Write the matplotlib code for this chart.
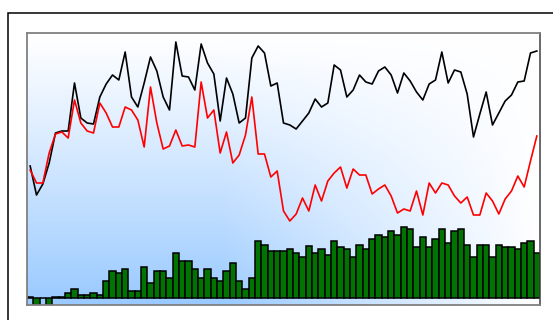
import matplotlib
matplotlib.use("Agg")
import matplotlib.pyplot as plt
import numpy as np
from matplotlib.patches import Rectangle

# values (baseline = 0)
black_line = [132, 103, 114, 135, 165, 167, 167, 215, 180, 175, 174, 201, 214, 223, 218, 246,
              201, 191, 215, 241, 227, 201, 188, 256, 222, 221, 208, 254, 235, 224, 177, 220,
              204, 175, 180, 240, 252, 245, 212, 215, 175, 173, 169, 177, 185, 199, 191, 195,
              233, 228, 201, 208, 223, 216, 214, 227, 231, 223, 205, 225, 217, 206, 198, 214,
              218, 246, 215, 228, 226, 204, 161, 184, 206, 173, 185, 197, 203, 216, 217, 245, 247]
red_line = [128, 115, 115, 145, 164, 166, 160, 198, 175, 167, 165, 195, 185, 171, 171, 191,
            188, 178, 151, 211, 175, 149, 152, 168, 152, 153, 151, 216, 180, 188, 145, 166,
            135, 143, 163, 201, 144, 144, 121, 127, 87, 77, 84, 100, 87, 113, 97, 117,
            125, 131, 110, 129, 123, 123, 104, 109, 113, 102, 85, 89, 87, 107, 83, 115,
            105, 115, 113, 102, 95, 101, 83, 83, 105, 97, 84, 99, 107, 122, 111, 137, 162]
bars = [1.3, -7, 0, -7, 0.7, 0.7, 5.3, 9.3, 3, 3, 5.3, 3, 17, 27.5, 25, 29.3,
        7, 7, 31.3, 15.3, 27.5, 27.5, 19.7, 45.3, 37.5, 37.5, 29.3, 19.7, 29.3, 19.7, 17.3, 27.5,
        35.3, 17.3, 9.3, 19.7, 57.5, 53, 47.3, 47.3, 47.3, 49.3, 45.3, 41.3, 52, 44.7, 49.3, 43.3,
        57.3, 51.3, 49.3, 41.3, 53.3, 49.3, 59.3, 63.3, 61.3, 66.7, 63.3, 71.3, 69.3, 51.3, 61.3, 51.3,
        59.3, 69.3, 55.3, 67.3, 69.3, 53.3, 41.3, 53.3, 53.3, 41.3, 53.3, 51.3, 51.3, 49.3, 55.3, 57.3, 45.3]

x = np.arange(len(bars))

fig = plt.figure(figsize=(5.53, 3.2), dpi=100)

# outer frame (runs off the right and bottom edges)
fig.patches.append(Rectangle((8 / 553, -0.05), 1.1, (307 / 320) + 0.05, transform=fig.transFigure,
                             fill=False, edgecolor="black", linewidth=1.1))

ax = fig.add_axes([27 / 553, 15 / 320, 513 / 553, 272 / 320])

# gradient background: blue bottom-left fading to white top-right
gx = np.linspace(0, 1, 300)
gy = np.linspace(0, 1, 200)
GX, GY = np.meshgrid(gx, gy)
h = np.clip((1 - GX) / 0.62, 0, 1)
v = np.clip(GY, 0, 1) ** 1.1
w = h * v
blue = np.array([0.6, 0.79, 1.0])
img = 1 - w[..., None] * (1 - blue)
ax.imshow(img, extent=(0, 1, 0, 1), transform=ax.transAxes, aspect="auto", zorder=0, origin="upper")

ax.plot(x, black_line, color="black", linewidth=1.2, zorder=3)
ax.plot(x, red_line, color="#ff0000", linewidth=1.2, zorder=3)
ax.bar(x, bars, width=1.0, color="#007400", edgecolor="black", linewidth=1.1, zorder=2)

ax.set_xlim(-0.5, len(bars) - 0.5)
ax.set_ylim(-7, 265)
ax.set_xticks([])
ax.set_yticks([])
for side in ("top", "left", "bottom"):
    ax.spines[side].set_color("#808080")
    ax.spines[side].set_linewidth(1.3)
ax.spines["right"].set_color("#404040")
ax.spines["right"].set_linewidth(1.1)

fig.savefig("out.png", dpi=100)
